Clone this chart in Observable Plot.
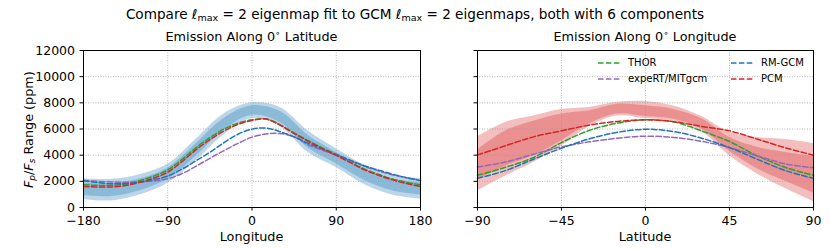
<!DOCTYPE html>
<html><head><meta charset="utf-8">
<script src="https://cdn.jsdelivr.net/npm/d3@7"></script>
<script src="https://cdn.jsdelivr.net/npm/@observablehq/plot@0.6"></script>
<style>
body{margin:0;background:#fff;}
#fig{position:relative;width:830px;height:249px;font-family:"DejaVu Sans",sans-serif;color:#000;overflow:hidden;}
.t{position:absolute;white-space:nowrap;line-height:1;}
.sub{font-size:70%;position:relative;top:0.25em;}
.lg{position:absolute;font-size:10px;line-height:1;white-space:nowrap;}
svg.p{position:absolute;top:0;}
</style></head><body>
<div id="fig"></div>
<script>
// ---------- data ----------
const lonGrid = [-180,-165,-150,-135,-120,-105,-90,-75,-60,-45,-30,-15,0,15,30,45,60,75,90,105,120,135,150,165,180];
const thorLon  = [1740,1690,1690,1800,2050,2400,2870,3660,4560,5340,5990,6450,6700,6760,6330,5700,5110,4560,4040,3490,2950,2540,2180,1920,1740];
const expertLon= [2080,2000,1950,1930,1950,2030,2200,2580,3150,3760,4350,4900,5380,5620,5650,5400,4800,4390,3990,3570,3140,2800,2500,2270,2080];
const rmgcmLon = [2050,1900,1820,1830,1940,2130,2400,2930,3560,4220,4950,5600,5990,6070,5800,5400,4910,4470,4060,3620,3190,2860,2550,2280,2050];
const pcmLon   = [1610,1570,1570,1680,1920,2250,2700,3500,4400,5180,5850,6350,6650,6760,6300,5650,5060,4500,3980,3430,2880,2470,2110,1830,1610];

const lonBand = [-180,-150,-120,-90,-60,-30,0,30,60,90,120,150,180];
const lonOuterLo = [600,500,950,1850,3550,5550,6800,6200,4200,3050,1750,950,620];
const lonOuterHi = [2200,2150,2500,3300,5200,7150,8000,7650,5850,4500,3250,2500,2200];
const lonInnerLo = [920,840,1280,2150,3900,5900,7050,6500,4550,3350,2080,1280,950];
const lonInnerHi = [1880,1810,2170,3000,4850,6800,7780,7350,5500,4200,2920,2170,1880];

const latGrid = [-90,-75,-60,-45,-30,-15,0,15,30,45,60,75,90];
const thorLat  = [2460,3070,3820,4960,5900,6450,6700,6550,5850,5040,3940,3060,2460];
const expertLat= [3090,3480,4070,4630,5020,5300,5450,5350,5060,4580,3940,3330,3040];
const rmgcmLat = [2230,2820,3690,4530,5250,5750,5980,5800,5300,4580,3680,2820,2230];
const pcmLat   = [4020,4720,5400,5860,6300,6580,6700,6560,6200,5860,5220,4560,4000];

const latOuterLo = [1250,2400,3430,4700,6200,7000,6800,6600,5800,3950,2550,1450,450];
const latOuterHi = [5400,6500,7000,7500,7650,8050,8100,7750,6950,5750,5350,5200,4900];
const latInnerLo = [2100,3150,3950,5100,6400,7150,6950,6750,6000,4300,2950,2000,1100];
const latInnerHi = [4400,5850,6600,7150,7400,7900,7780,7500,6800,5350,4600,4200,3900];

const seriesNames = ["THOR","expeRT/MITgcm","RM-GCM","PCM"];
const seriesColors = ["#2ca02c","#9467bd","#1f77b4","#d62728"];
const lonTicks = [-180,-90,0,90,180];
const latTicks = [-90,-45,0,45,90];
const yTicks = [0,2000,4000,6000,8000,10000,12000];

// ---------- build ----------
const fig = document.getElementById("fig");
function rows(xs, cols){ return xs.map((x,i)=>({x, lo:cols[0][i], hi:cols[1][i]})); }
function lineRows(xs, lists){
  const out=[];
  lists.forEach((ys,k)=>xs.forEach((x,i)=>out.push({x, y:ys[i], s:seriesNames[k]})));
  return out;
}
const fmt = d3.format("d");
function panel({left,width,ml,mr,xdom,xticks,grid,series,bx,outer,inner,band,ylabels}){
  const svg = Plot.plot({
    width, height:249, marginTop:50, marginBottom:42, marginLeft:ml, marginRight:mr,
    style:{fontFamily:"DejaVu Sans, sans-serif", fontSize:"12.5px", color:"#000", background:"transparent", overflow:"visible"},
    x:{domain:xdom, label:null},
    y:{domain:[0,12000], label:null},
    color:{domain:seriesNames, range:seriesColors},
    marks:[
      Plot.areaY(rows(bx,outer), {x:"x", y1:"lo", y2:"hi", fill:band, fillOpacity:0.3, curve:"catmull-rom"}),
      Plot.areaY(rows(bx,inner), {x:"x", y1:"lo", y2:"hi", fill:band, fillOpacity:0.3, curve:"catmull-rom"}),
      Plot.ruleX(xticks, {x:d=>d, stroke:"#9a9a9a", strokeWidth:0.8, strokeDasharray:"0.9,1.6"}),
      Plot.ruleY(yTicks, {y:d=>d, stroke:"#9a9a9a", strokeWidth:0.8, strokeDasharray:"0.9,1.6"}),
      Plot.line(lineRows(grid, series), {x:"x", y:"y", z:"s", stroke:"s", strokeWidth:1.5, strokeDasharray:"5.5,2.4", curve:"catmull-rom"}),
      Plot.frame({stroke:"#000", strokeWidth:1}),
      Plot.axisX({ticks:xticks, tickFormat:fmt, tickSize:3.5, tickPadding:5.5, label:null}),
      Plot.axisY({ticks:yTicks, tickFormat: ylabels ? fmt : ()=>"", tickSize:3.5, tickPadding:5, label:null})
    ]
  });
  svg.classList.add("p");
  svg.style.left = left+"px";
  fig.appendChild(svg);
}
panel({left:0,width:430,ml:83,mr:10,xdom:[-180,180],xticks:lonTicks,grid:lonGrid,
  series:[thorLon,expertLon,rmgcmLon,pcmLon],bx:lonBand,outer:[lonOuterLo,lonOuterHi],inner:[lonInnerLo,lonInnerHi],band:"#1f77b4",ylabels:true});
panel({left:430,width:400,ml:47,mr:17,xdom:[-90,90],xticks:latTicks,grid:latGrid,
  series:[thorLat,expertLat,rmgcmLat,pcmLat],bx:latGrid,outer:[latOuterLo,latOuterHi],inner:[latInnerLo,latInnerHi],band:"#d62728",ylabels:false});

function text(html, x, y, size, anchor, extra){
  const d=document.createElement("div"); d.className="t"; d.innerHTML=html;
  d.style.fontSize=size+"px"; d.style.left=x+"px"; d.style.top=y+"px";
  d.style.transform=(anchor==="c"?"translateX(-50%)":"")+(extra||"");
  fig.appendChild(d); return d;
}
text('Compare <i>ℓ</i><span class="sub">max</span> = 2 eigenmap fit to GCM <i>ℓ</i><span class="sub">max</span> = 2 eigenmaps, both with 6 components', 415, 8, 13.6, "c");
text('Emission Along 0<span style="font-size:70%;position:relative;top:-0.55em">∘</span> Latitude', 251.5, 31, 12.8, "c");
text('Emission Along 0<span style="font-size:70%;position:relative;top:-0.55em">∘</span> Longitude', 645, 31, 12.8, "c");
text('Longitude', 251.5, 230.5, 12.8, "c");
text('Latitude', 645, 230.5, 12.8, "c");
const yl = text('<i>F</i><span class="sub"><i>p</i></span>/<i>F</i><span class="sub"><i>s</i></span> Range (ppm)', 0, 0, 12.8, "");
yl.style.transformOrigin="0 0";
const w = yl.offsetWidth;
yl.style.left="23px"; yl.style.top=(129.5 + w/2)+"px"; yl.style.transform="rotate(-90deg)";

// legend
const legendPos = [[598,63],[598,79],[731,63],[731,79]];
seriesNames.forEach((n,i)=>{
  const [x,y]=legendPos[i];
  const d=document.createElement("div"); d.className="lg";
  d.style.left=x+"px"; d.style.top=(y-6)+"px";
  d.innerHTML=`<svg width="24" height="12" style="vertical-align:middle"><line x1="0" y1="6" x2="22" y2="6" stroke="${seriesColors[i]}" stroke-width="1.5" stroke-dasharray="5.5,2.4"/></svg><span style="position:relative;left:6px;top:0px;vertical-align:middle">${n}</span>`;
  fig.appendChild(d);
});
</script>
</body></html>
